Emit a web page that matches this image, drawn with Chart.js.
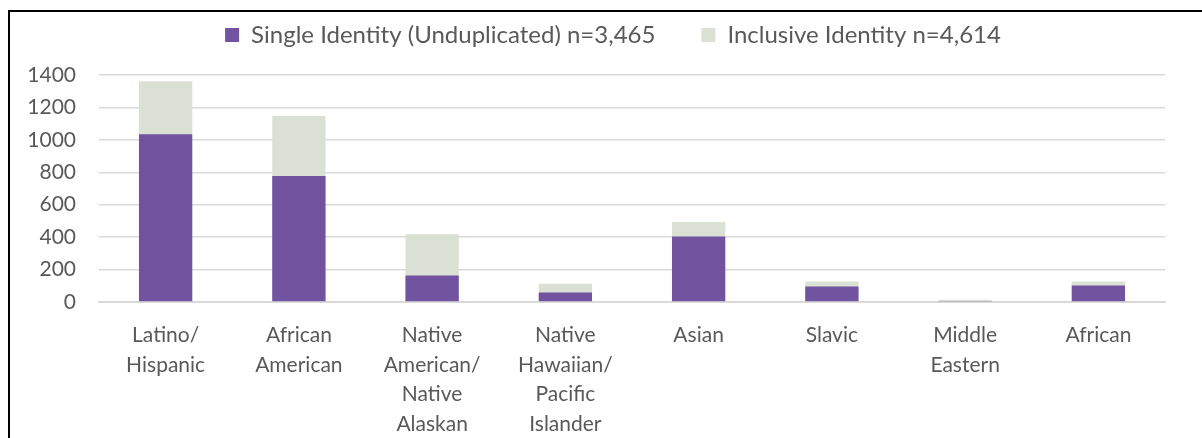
<!DOCTYPE html>
<html>
<head>
<meta charset="utf-8">
<script src="https://cdn.jsdelivr.net/npm/chart.js@4.4.1/dist/chart.umd.min.js"></script>
<style>
    html, body { margin: 0; padding: 0; background: #ffffff; }
    #wrap { position: relative; width: 1202px; height: 438px; overflow: hidden; }
    #frame {
        position: absolute; left: 8px; top: 10px; width: 1300px; height: 500px;
        border-left: 2px solid #000; border-top: 2px solid #000;
    }
    #chartBox { position: absolute; left: 0; top: 0; width: 1202px; height: 438px; }
</style>
</head>
<body>
<div id="wrap">
    <div id="frame"></div>
    <div id="chartBox"><canvas id="identityChart" width="1202" height="438"></canvas></div>
</div>
<script>
// Chart data
const categories = [
    ['Latino/', 'Hispanic'],
    ['African', 'American'],
    ['Native', 'American/', 'Native', 'Alaskan'],
    ['Native', 'Hawaiian/', 'Pacific', 'Islander'],
    'Asian',
    'Slavic',
    ['Middle', 'Eastern'],
    'African'
];
const singleIdentity = [1035, 777, 163, 58, 404, 95, 3, 101];
const inclusiveIdentity = [1362, 1147, 418, 113, 493, 126, 14, 126];
const seriesNames = ['Single Identity (Unduplicated) n=3,465', 'Inclusive Identity n=4,614'];
const yMin = 0;
const yMax = 1400;
const yStep = 200;

const textColor = '#595959';
const gridColor = '#d9d9d9';
const fontFamily = 'Lato, "Open Sans", sans-serif';

// legend takes a fixed height so the plot starts where the reference does
const legendHeight = {
    id: 'legendHeight',
    beforeInit(chart) {
        const fit = chart.legend.fit;
        chart.legend.fit = function() {
            fit.bind(chart.legend)();
            this.height = 98;
        };
    }
};

document.addEventListener('DOMContentLoaded', function() {
    const ctx = document.getElementById('identityChart').getContext('2d');

    new Chart(ctx, {
        type: 'bar',
        data: {
            labels: categories,
            datasets: [
                {
                    label: seriesNames[0],
                    data: singleIdentity,
                    backgroundColor: '#7153a0',
                    borderWidth: 0
                },
                {
                    label: seriesNames[1],
                    data: inclusiveIdentity,
                    backgroundColor: '#dbe0d4',
                    borderWidth: 0
                }
            ]
        },
        options: {
            responsive: false,
            animation: false,
            layout: {
                padding: { left: 24, right: 0, top: -23, bottom: 0 }
            },
            datasets: {
                bar: {
                    categoryPercentage: 0.8,
                    barPercentage: 0.5
                }
            },
            plugins: {
                legend: {
                    position: 'top',
                    labels: {
                        boxWidth: 14,
                        boxHeight: 14,
                        padding: 46,
                        color: textColor,
                        font: { family: fontFamily, size: 24 }
                    }
                },
                tooltip: { enabled: false }
            },
            scales: {
                x: {
                    stacked: true,
                    grid: { display: false },
                    border: { color: gridColor, width: 2 },
                    ticks: {
                        color: textColor,
                        padding: 11,
                        maxRotation: 0,
                        autoSkip: false,
                        font: { family: fontFamily, size: 21, lineHeight: 1.4 }
                    },
                    afterFit(scale) { scale.height = 136; }
                },
                y: {
                    stacked: false,
                    min: yMin,
                    max: yMax,
                    grid: { color: gridColor, lineWidth: 1.5, drawTicks: false },
                    border: { display: false },
                    ticks: {
                        stepSize: yStep,
                        color: textColor,
                        padding: 23,
                        font: { family: fontFamily, size: 21 },
                        callback: function(value) {
                            return String(value);
                        }
                    },
                    afterFit(scale) { scale.width = 75; }
                },
                y2: {
                    position: 'right',
                    grid: { display: false },
                    border: { display: false },
                    ticks: { display: false },
                    afterFit(scale) { scale.width = 37; }
                }
            }
        },
        plugins: [legendHeight]
    });
});
</script>
</body>
</html>
